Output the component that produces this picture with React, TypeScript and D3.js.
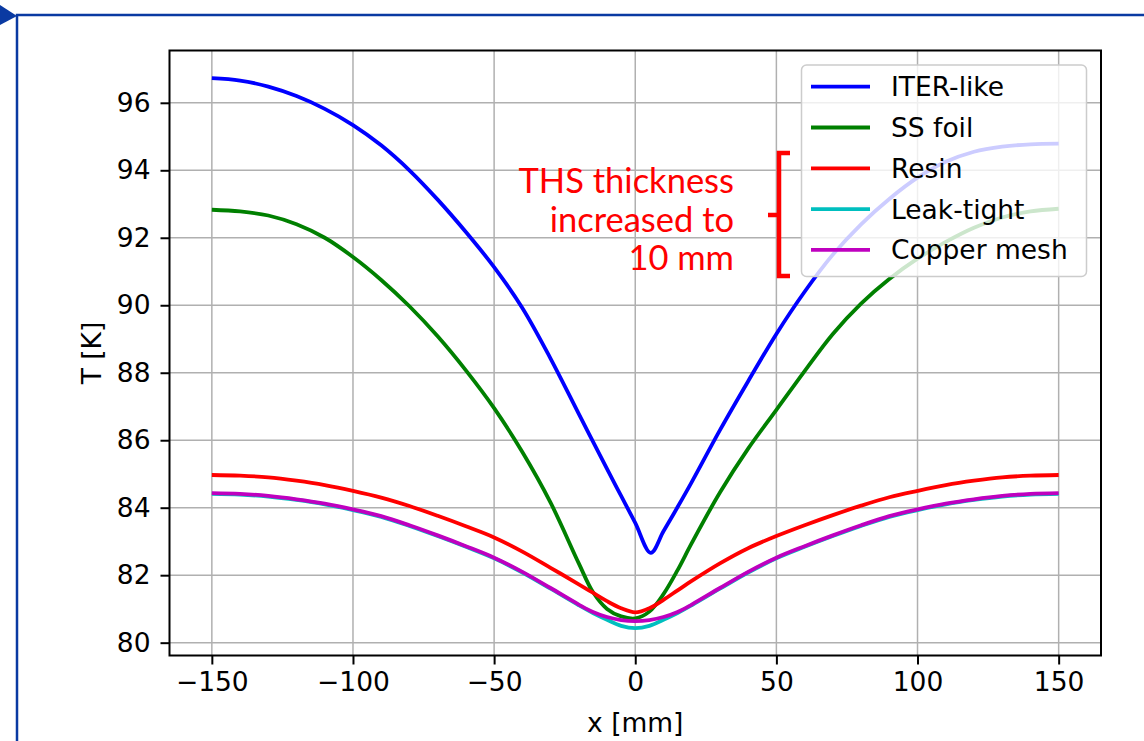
import React, { useEffect, useRef } from "react";
import * as d3 from "d3";

// x positions (mm) shared by most curves
const xs = [-150, -140, -130, -120, -110, -100, -90, -80, -70, -60, -50, -40, -30, -20, -15, -10, -5, 0, 5, 10, 15, 20, 30, 40, 50, 60, 70, 80, 90, 100, 110, 120, 130, 140, 150];
// ITER-like has its own grid because of the sharp minimum near x = 5.5
const xsIter = [-150, -140, -130, -120, -110, -100, -90, -80, -70, -60, -50, -40, -30, -20, -10, -5, 0, 5.5, 10, 15, 20, 30, 40, 50, 60, 70, 80, 90, 100, 110, 120, 130, 140, 150];

const iterLike = [96.73, 96.66, 96.48, 96.2, 95.82, 95.34, 94.74, 94.0, 93.13, 92.17, 91.13, 89.92, 88.42, 86.78, 85.15, 84.35, 83.55, 82.66, 83.3, 84.02, 84.76, 86.3, 87.75, 89.15, 90.4, 91.5, 92.4, 93.15, 93.78, 94.25, 94.55, 94.7, 94.77, 94.79];
const ssFoil = [92.83, 92.78, 92.66, 92.4, 92.0, 91.43, 90.75, 89.97, 89.08, 88.07, 86.95, 85.65, 84.15, 82.35, 81.5, 81.0, 80.78, 80.72, 80.92, 81.44, 82.15, 82.95, 84.45, 85.75, 86.9, 88.05, 89.15, 90.05, 90.78, 91.38, 91.88, 92.3, 92.6, 92.78, 92.86];
const resin = [84.97, 84.95, 84.9, 84.8, 84.67, 84.5, 84.3, 84.05, 83.76, 83.45, 83.12, 82.7, 82.22, 81.73, 81.48, 81.23, 81.02, 80.9, 81.02, 81.27, 81.55, 81.83, 82.35, 82.8, 83.16, 83.48, 83.78, 84.06, 84.31, 84.5, 84.67, 84.8, 84.9, 84.95, 84.97];
const leakTight = [84.41, 84.39, 84.33, 84.23, 84.1, 83.93, 83.73, 83.46, 83.16, 82.84, 82.5, 82.08, 81.6, 81.11, 80.88, 80.68, 80.5, 80.43, 80.5, 80.68, 80.88, 81.11, 81.6, 82.08, 82.5, 82.84, 83.16, 83.46, 83.73, 83.93, 84.1, 84.23, 84.33, 84.39, 84.41];
const copperMesh = [84.43, 84.41, 84.35, 84.25, 84.12, 83.95, 83.75, 83.48, 83.18, 82.86, 82.52, 82.1, 81.62, 81.13, 80.91, 80.76, 80.67, 80.64, 80.67, 80.76, 80.91, 81.13, 81.62, 82.1, 82.52, 82.86, 83.18, 83.48, 83.75, 83.95, 84.12, 84.25, 84.35, 84.41, 84.43];

const seriesNames = ["ITER-like", "SS foil", "Resin", "Leak-tight", "Copper mesh"];
const seriesColors = ["#0000ff", "#008000", "#ff0000", "#00bfbf", "#bf00bf"];

const xTicks = [-150, -100, -50, 0, 50, 100, 150];
const yTicks = [80, 82, 84, 86, 88, 90, 92, 94, 96];
const noteLines = ["THS thickness", "increased to", "10 mm"];

const W = 1144;
const H = 741;
const FONT = "'DejaVu Sans', sans-serif";

const App = () => {
  const ref = useRef<SVGSVGElement | null>(null);

  useEffect(() => {
    const svg = d3.select(ref.current);
    svg.selectAll("*").remove();

    const left = 169.5, right = 1101, top = 50.5, bottom = 655.5;

    const x = d3.scaleLinear().domain([-165, 165]).range([left, right]);
    const y = d3.scaleLinear().domain([79.62, 97.55]).range([bottom, top]);

    svg.append("rect").attr("width", W).attr("height", H).attr("fill", "#fff");

    // slide frame
    svg.append("path")
      .attr("d", `M17,${H} V15 H${W}`)
      .attr("fill", "none")
      .attr("stroke", "#0a3aa2")
      .attr("stroke-width", 2.5);
    svg.append("polygon")
      .attr("points", "0,5 17,16 0,25")
      .attr("fill", "#0a3aa2");

    // grid
    const grid = svg.append("g").attr("stroke", "#b0b0b0").attr("stroke-width", 1.5);
    xTicks.forEach((t) => {
      grid.append("line").attr("x1", x(t)).attr("x2", x(t)).attr("y1", top).attr("y2", bottom);
    });
    yTicks.forEach((t) => {
      grid.append("line").attr("x1", left).attr("x2", right).attr("y1", y(t)).attr("y2", y(t));
    });

    // axes
    const fmt = (d: number) => (d < 0 ? "\u2212" + Math.abs(d) : String(d));
    const xAxis = svg.append("g")
      .attr("transform", `translate(0,${bottom})`)
      .call(d3.axisBottom(x).tickValues(xTicks).tickFormat((d) => fmt(+d)).tickSize(9).tickPadding(8));
    const yAxis = svg.append("g")
      .attr("transform", `translate(${left},0)`)
      .call(d3.axisLeft(y).tickValues(yTicks).tickSize(9).tickPadding(10));
    [xAxis, yAxis].forEach((a) => {
      a.select(".domain").remove();
      a.selectAll("line").attr("stroke", "#000").attr("stroke-width", 2);
      a.selectAll("text").attr("fill", "#000").style("font-family", FONT).style("font-size", "26.5px");
    });

    // curves
    const line = d3.line<[number, number]>()
      .x((d) => x(d[0]))
      .y((d) => y(d[1]))
      .curve(d3.curveCatmullRom.alpha(0.5));
    const allSeries = [
      xsIter.map((v, i) => [v, iterLike[i]] as [number, number]),
      xs.map((v, i) => [v, ssFoil[i]] as [number, number]),
      xs.map((v, i) => [v, resin[i]] as [number, number]),
      xs.map((v, i) => [v, leakTight[i]] as [number, number]),
      xs.map((v, i) => [v, copperMesh[i]] as [number, number]),
    ];
    allSeries.forEach((s, i) => {
      svg.append("path")
        .attr("d", line(s))
        .attr("fill", "none")
        .attr("stroke", seriesColors[i])
        .attr("stroke-width", 3.8)
        .attr("stroke-linejoin", "round");
    });

    // spines
    svg.append("rect")
      .attr("x", left).attr("y", top)
      .attr("width", right - left).attr("height", bottom - top)
      .attr("fill", "none").attr("stroke", "#000").attr("stroke-width", 2);

    // axis labels
    svg.append("text")
      .attr("x", (left + right) / 2).attr("y", 732)
      .attr("text-anchor", "middle")
      .style("font-family", FONT).style("font-size", "26.5px")
      .text("x [mm]");
    svg.append("text")
      .attr("transform", `translate(101,${(top + bottom) / 2}) rotate(-90)`)
      .attr("text-anchor", "middle")
      .style("font-family", FONT).style("font-size", "26.5px")
      .text("T [K]");

    // annotation
    noteLines.forEach((t, i) => {
      svg.append("text")
        .attr("x", 734).attr("y", 193 + i * 38.5)
        .attr("text-anchor", "end")
        .attr("fill", "#ff0000")
        .style("font-family", "Lato, 'Open Sans', sans-serif")
        .style("font-size", "34.5px")
        .text(t);
    });
    svg.append("path")
      .attr("d", "M790,153 H779 V276 H790 M779,215 H768")
      .attr("fill", "none")
      .attr("stroke", "#ff0000")
      .attr("stroke-width", 4.5);

    // legend
    const lg = svg.append("g");
    lg.append("rect")
      .attr("x", 801.5).attr("y", 65)
      .attr("width", 285).attr("height", 211.5)
      .attr("rx", 5)
      .attr("fill", "#fff").attr("fill-opacity", 0.8)
      .attr("stroke", "#cccccc").attr("stroke-width", 1.5);
    seriesNames.forEach((name, i) => {
      const ry = 86.7 + i * 40.8;
      lg.append("line")
        .attr("x1", 811).attr("x2", 870).attr("y1", ry).attr("y2", ry)
        .attr("stroke", seriesColors[i]).attr("stroke-width", 3.8);
      lg.append("text")
        .attr("x", 891).attr("y", ry + 9.5)
        .style("font-family", FONT).style("font-size", "26.5px")
        .text(name);
    });
  }, []);

  return (
    <svg
      ref={ref}
      width={W}
      height={H}
      style={{ position: "absolute", left: 0, top: 0, display: "block" }}
    />
  );
};

export default App;
